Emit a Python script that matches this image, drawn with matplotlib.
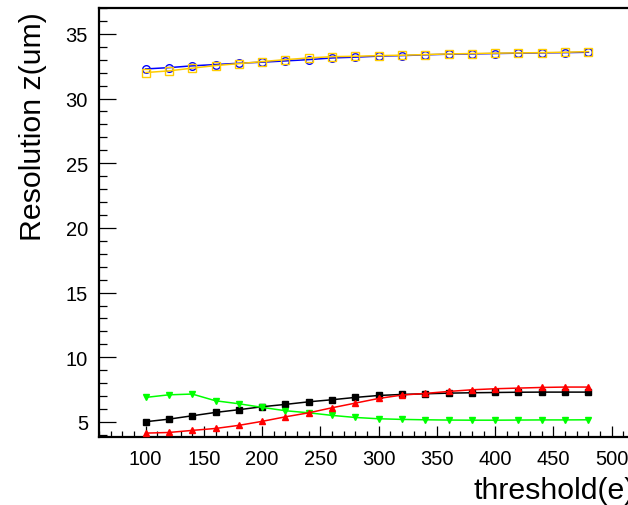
import numpy as np
import matplotlib.pyplot as plt
from matplotlib.ticker import MultipleLocator

# threshold scan points
threshold = [100, 120, 140, 160, 180, 200, 220, 240, 260, 280,
             300, 320, 340, 360, 380, 400, 420, 440, 460, 480]

# resolution z (um) for each configuration
res_black = [5.02, 5.22, 5.48, 5.74, 5.95, 6.18, 6.36, 6.56, 6.72, 6.90,
             7.05, 7.13, 7.18, 7.23, 7.26, 7.28, 7.30, 7.31, 7.31, 7.31]
res_red = [4.14, 4.19, 4.35, 4.50, 4.74, 5.05, 5.40, 5.71, 6.10, 6.46,
           6.82, 7.08, 7.21, 7.36, 7.49, 7.57, 7.62, 7.67, 7.70, 7.70]
res_green = [6.90, 7.10, 7.16, 6.64, 6.41, 6.13, 5.87, 5.71, 5.51, 5.35,
             5.25, 5.20, 5.17, 5.15, 5.14, 5.14, 5.15, 5.16, 5.16, 5.17]
res_blue = [32.29, 32.39, 32.53, 32.63, 32.73, 32.81, 32.91, 33.01, 33.14, 33.20,
            33.28, 33.32, 33.38, 33.43, 33.45, 33.48, 33.51, 33.53, 33.55, 33.58]
res_yellow = [32.01, 32.14, 32.35, 32.55, 32.70, 32.86, 33.01, 33.14, 33.24, 33.27,
              33.32, 33.35, 33.40, 33.45, 33.48, 33.51, 33.53, 33.55, 33.58, 33.63]

plt.rcParams['font.family'] = ['Liberation Sans', 'DejaVu Sans']

fig = plt.figure(figsize=(6.28, 5.06), dpi=100)
# axes runs slightly past the right border, like the cropped original
ax = fig.add_axes([99 / 628, 68 / 506, 536 / 628, 429 / 506])

ax.plot(threshold, res_black, color='black', lw=1.1, marker='s', ms=5, zorder=3)
ax.plot(threshold, res_red, color='#ff0000', lw=1.1, marker='^', ms=5, zorder=4)
ax.plot(threshold, res_green, color='#00ff00', lw=1.1, marker='v', ms=5, zorder=3)
ax.plot(threshold, res_blue, color='#0000ff', lw=1.1, marker='o', ms=5.5,
        mfc='none', mec='#0000ff', mew=1.0, zorder=3)
ax.plot(threshold, res_yellow, color='#ffcc00', lw=1.1, marker='s', ms=6,
        mfc='none', mec='#ffcc00', mew=1.0, zorder=4)

ax.set_xlim(60, 520)
ax.set_ylim(3.84, 37.0)

ax.xaxis.set_major_locator(MultipleLocator(50))
ax.xaxis.set_minor_locator(MultipleLocator(10))
ax.yaxis.set_major_locator(MultipleLocator(5))
ax.yaxis.set_minor_locator(MultipleLocator(1))

ax.tick_params(axis='both', which='both', direction='in', top=False, right=False,
               labelsize=14.5, width=0.9)
ax.tick_params(axis='y', which='major', length=12, pad=8)
ax.tick_params(axis='y', which='minor', length=6)
ax.tick_params(axis='x', which='major', length=8, pad=8.5)
ax.tick_params(axis='x', which='minor', length=4)

for s in ax.spines.values():
    s.set_linewidth(1.6)

ax.set_xlabel('threshold(e)', fontsize=21.8, loc='right')
ax.xaxis.set_label_coords(1.0, -0.092)
ax.set_ylabel('Resolution z(um)', fontsize=21.8, loc='top')
ax.yaxis.set_label_coords(-0.097, 0.993)

fig.savefig('out.png', dpi=100)
